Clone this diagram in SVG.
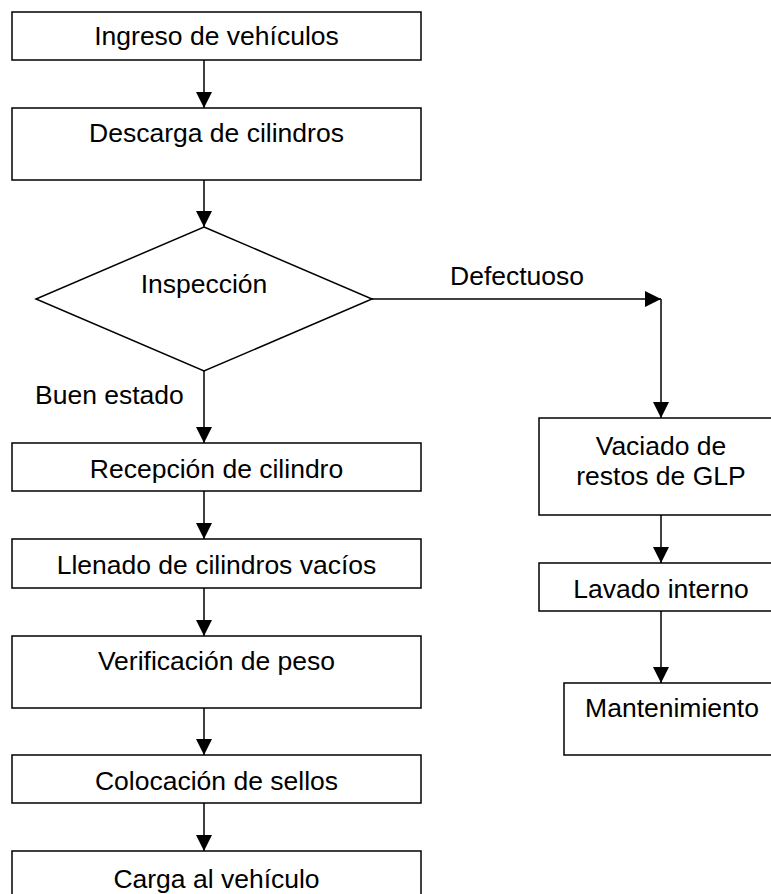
<svg xmlns="http://www.w3.org/2000/svg" width="771" height="894" viewBox="0 0 771 894">
<style>
.box{fill:#fff;stroke:#000;stroke-width:1.5}
.t{font-family:"Liberation Sans",Arial,sans-serif;font-size:26.5px;fill:#000}
.c{text-anchor:middle}
.ln{fill:none;stroke:#000;stroke-width:1.5}
</style>
<defs>
<marker id="ah" markerUnits="userSpaceOnUse" markerWidth="16" markerHeight="16" viewBox="0 0 14 14" refX="14" refY="7" orient="auto">
<path d="M0,0 L14,7 L0,14 Z" fill="#000"/>
</marker>
</defs>
<rect width="771" height="894" fill="#fff"/>
<g id="connectors">
<path class="ln" d="M204,60 V108" marker-end="url(#ah)"/>
<path class="ln" d="M204,180 V227" marker-end="url(#ah)"/>
<path class="ln" d="M204,371 V443" marker-end="url(#ah)"/>
<path class="ln" d="M204,491 V539" marker-end="url(#ah)"/>
<path class="ln" d="M204,588 V636" marker-end="url(#ah)"/>
<path class="ln" d="M204,708 V755" marker-end="url(#ah)"/>
<path class="ln" d="M204,803 V851" marker-end="url(#ah)"/>
<path class="ln" d="M372,299 H661" marker-end="url(#ah)"/>
<path class="ln" d="M661,299 V418" marker-end="url(#ah)"/>
<path class="ln" d="M661,515 V563" marker-end="url(#ah)"/>
<path class="ln" d="M661,611 V683" marker-end="url(#ah)"/>
<text class="t" x="35" y="404">Buen estado</text>
<text class="t" x="450" y="285">Defectuoso</text>
</g>
<g id="n1"><rect class="box" x="12" y="12" width="409" height="48"/><text class="t c" x="216.5" y="45">Ingreso de vehículos</text></g>
<g id="n2"><rect class="box" x="12" y="108" width="409" height="72"/><text class="t c" x="216.5" y="142">Descarga de cilindros</text></g>
<g id="n3"><path class="box" d="M204,227 L372,299 L204,371 L36,299 Z"/><text class="t c" x="204" y="293">Inspección</text></g>
<g id="n4"><rect class="box" x="12" y="443" width="409" height="48"/><text class="t c" x="216.5" y="478">Recepción de cilindro</text></g>
<g id="n5"><rect class="box" x="12" y="539" width="409" height="49"/><text class="t c" x="216.5" y="574">Llenado de cilindros vacíos</text></g>
<g id="n6"><rect class="box" x="12" y="636" width="409" height="72"/><text class="t c" x="216.5" y="670">Verificación de peso</text></g>
<g id="n7"><rect class="box" x="12" y="755" width="409" height="48"/><text class="t c" x="216.5" y="790">Colocación de sellos</text></g>
<g id="n8"><rect class="box" x="12" y="851" width="409" height="80"/><text class="t c" x="216.5" y="888">Carga al vehículo</text></g>
<g id="n9"><rect class="box" x="539" y="418" width="300" height="97"/><text class="t c" x="661" y="455">Vaciado de</text><text class="t c" x="661" y="485">restos de GLP</text></g>
<g id="n10"><rect class="box" x="539" y="563" width="300" height="48"/><text class="t c" x="661" y="598">Lavado interno</text></g>
<g id="n11"><rect class="box" x="564" y="683" width="300" height="72"/><text class="t c" x="672" y="717">Mantenimiento</text></g>
</svg>
